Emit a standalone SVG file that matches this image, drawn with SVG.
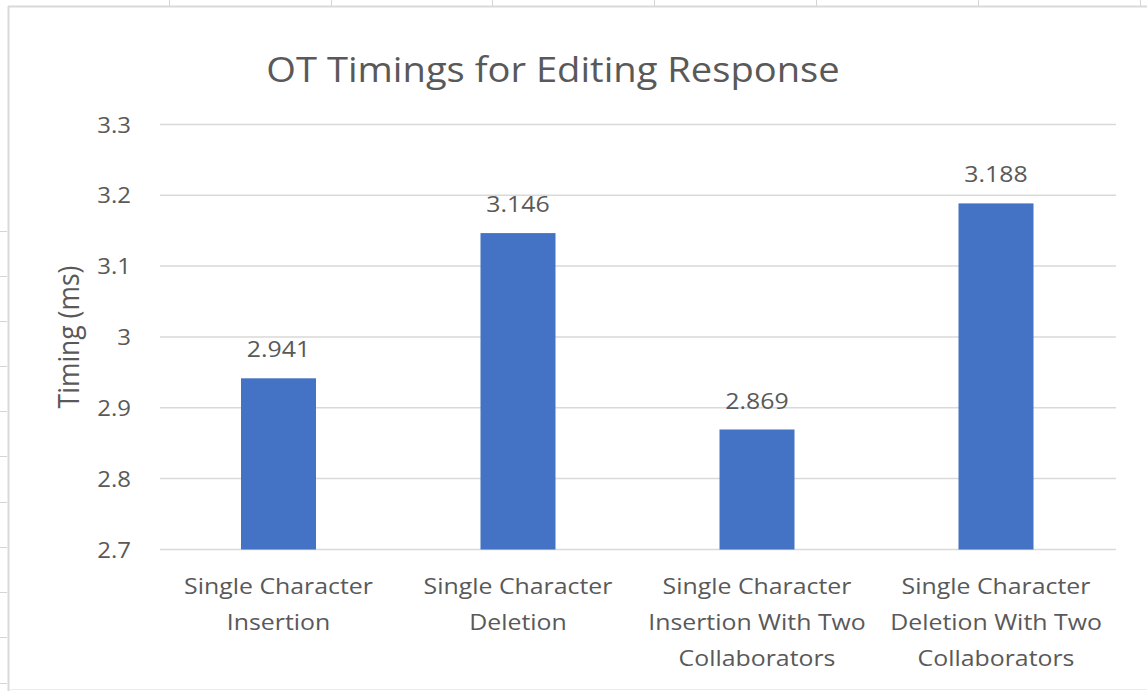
<svg xmlns="http://www.w3.org/2000/svg" width="1147" height="691" viewBox="0 0 1147 691">
<style>
.t{font-family:"Open Sans","Liberation Sans",sans-serif;fill:#595959}
.lbl{font-size:22.6px;text-anchor:middle}
.tick{font-size:22px;text-anchor:end}
.grid{stroke:#d9d9d9;stroke-width:1.5}
.sheet{stroke:#d4d4d4;stroke-width:1}
.bar{fill:#4472c4}
</style>
<rect width="1147" height="691" fill="#ffffff"/>
<g id="sheet-frame">
<line x1="8" y1="6.5" x2="1147" y2="6.5" stroke="#d9d9d9" stroke-width="2"/>
<line x1="8.5" y1="6" x2="8.5" y2="691" stroke="#d9d9d9" stroke-width="2"/>
<line x1="10" y1="689.5" x2="1147" y2="689.5" stroke="#ececec" stroke-width="1"/>
<g class="sheet">
<line x1="169.5" y1="0" x2="169.5" y2="6"/><line x1="331.5" y1="0" x2="331.5" y2="6"/><line x1="492.5" y1="0" x2="492.5" y2="6"/><line x1="654.5" y1="0" x2="654.5" y2="6"/><line x1="816.5" y1="0" x2="816.5" y2="6"/><line x1="978.5" y1="0" x2="978.5" y2="6"/><line x1="1140.5" y1="0" x2="1140.5" y2="6"/>
<line x1="0" y1="231.5" x2="7" y2="231.5"/><line x1="0" y1="276.5" x2="7" y2="276.5"/><line x1="0" y1="321.5" x2="7" y2="321.5"/><line x1="0" y1="366.5" x2="7" y2="366.5"/><line x1="0" y1="411.5" x2="7" y2="411.5"/><line x1="0" y1="456.5" x2="7" y2="456.5"/><line x1="0" y1="502.5" x2="7" y2="502.5"/><line x1="0" y1="547.5" x2="7" y2="547.5"/><line x1="0" y1="592.5" x2="7" y2="592.5"/><line x1="0" y1="637.5" x2="7" y2="637.5"/><line x1="0" y1="683.5" x2="7" y2="683.5"/>
</g>
</g>
<g id="title">
<text class="t" font-size="35" text-anchor="middle" transform="translate(553,82) scale(1.09,1)">OT Timings for Editing Response</text>
</g>
<g id="gridlines">
<line class="grid" x1="160" y1="124.5" x2="1116" y2="124.5"/>
<line class="grid" x1="160" y1="195.3" x2="1116" y2="195.3"/>
<line class="grid" x1="160" y1="266.1" x2="1116" y2="266.1"/>
<line class="grid" x1="160" y1="337" x2="1116" y2="337"/>
<line class="grid" x1="160" y1="407.8" x2="1116" y2="407.8"/>
<line class="grid" x1="160" y1="478.6" x2="1116" y2="478.6"/>
<line class="grid" x1="160" y1="549.5" x2="1116" y2="549.5"/>
</g>
<g id="y-axis">
<text class="t tick" transform="translate(131,132.5) scale(1.09,1)">3.3</text>
<text class="t tick" transform="translate(131,203.3) scale(1.09,1)">3.2</text>
<text class="t tick" transform="translate(131,274.1) scale(1.09,1)">3.1</text>
<text class="t tick" transform="translate(131,345) scale(1.09,1)">3</text>
<text class="t tick" transform="translate(131,415.8) scale(1.09,1)">2.9</text>
<text class="t tick" transform="translate(131,486.6) scale(1.09,1)">2.8</text>
<text class="t tick" transform="translate(131,557.5) scale(1.09,1)">2.7</text>
<text class="t" font-size="26.5" text-anchor="middle" transform="translate(79,337) scale(1.09,1) rotate(-90)">Timing (ms)</text>
</g>
<g id="bar-1">
<rect class="bar" x="241" y="378.3" width="75" height="171.2"/>
<text class="t lbl" transform="translate(278.5,357) scale(1.1,1)">2.941</text>
</g>
<g id="bar-2">
<rect class="bar" x="480.5" y="233.1" width="75" height="316.4"/>
<text class="t lbl" transform="translate(518,212) scale(1.1,1)">3.146</text>
</g>
<g id="bar-3">
<rect class="bar" x="719.5" y="429.5" width="75" height="120"/>
<text class="t lbl" transform="translate(757,408.5) scale(1.1,1)">2.869</text>
</g>
<g id="bar-4">
<rect class="bar" x="958.5" y="203.4" width="75" height="346.1"/>
<text class="t lbl" transform="translate(996,182) scale(1.1,1)">3.188</text>
</g>
<g id="x-axis">
<text class="t lbl" transform="translate(278.5,594) scale(1.1,1)">Single Character</text>
<text class="t lbl" transform="translate(278.5,630) scale(1.1,1)">Insertion</text>
<text class="t lbl" transform="translate(518,594) scale(1.1,1)">Single Character</text>
<text class="t lbl" transform="translate(518,630) scale(1.1,1)">Deletion</text>
<text class="t lbl" transform="translate(757,594) scale(1.1,1)">Single Character</text>
<text class="t lbl" transform="translate(757,630) scale(1.1,1)">Insertion With Two</text>
<text class="t lbl" transform="translate(757,666) scale(1.1,1)">Collaborators</text>
<text class="t lbl" transform="translate(996,594) scale(1.1,1)">Single Character</text>
<text class="t lbl" transform="translate(996,630) scale(1.1,1)">Deletion With Two</text>
<text class="t lbl" transform="translate(996,666) scale(1.1,1)">Collaborators</text>
</g>
</svg>
